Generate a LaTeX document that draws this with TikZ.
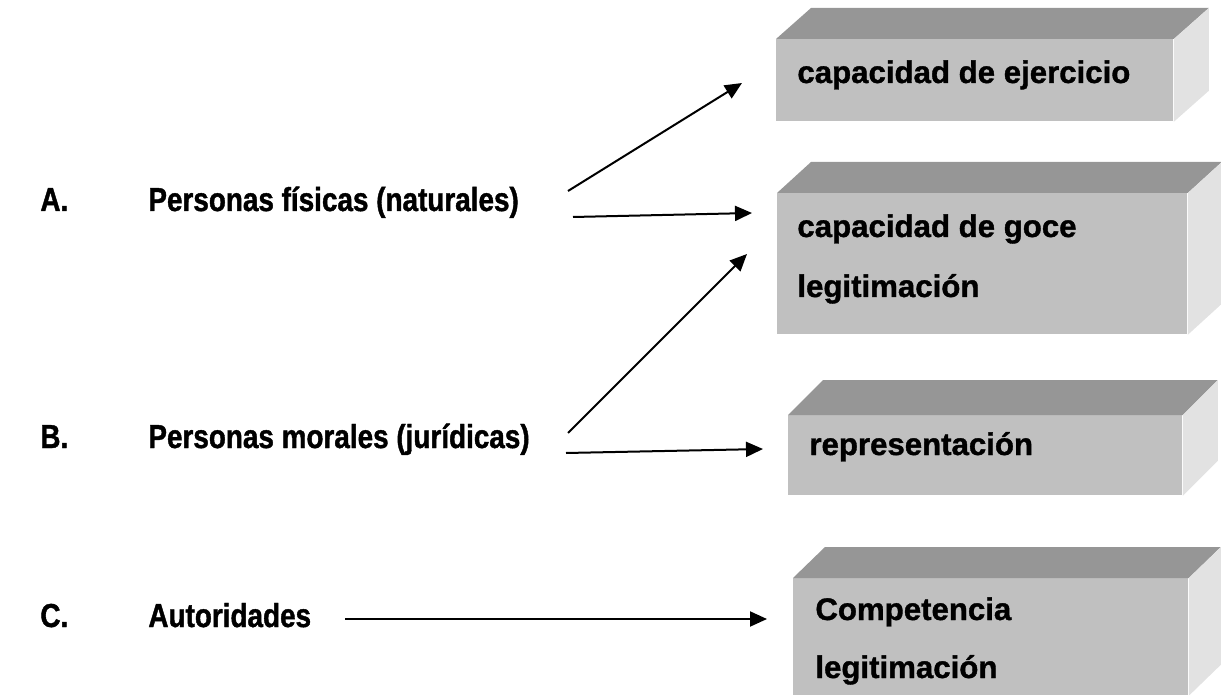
\documentclass[tikz,border=0pt]{standalone}
\usepackage{fontspec}
\setmainfont[BoldFeatures={FakeBold=1.2}]{Liberation Sans}
\newfontfamily\estrecha[FakeStretch=0.84,BoldFeatures={FakeBold=1.2,FakeStretch=0.84}]{Liberation Sans}
\usetikzlibrary{positioning,arrows.meta}

\definecolor{frente}{HTML}{C0C0C0}
\definecolor{techo}{HTML}{969696}
\definecolor{lado}{HTML}{E2E2E2}

\tikzset{
  cara/.style={fill=frente,draw=none,inner sep=0pt,anchor=north west},
  texto/.style={font=\bfseries\fontsize{15.6}{18}\selectfont,inner sep=0pt,anchor=base west},
  rotulo/.style={font=\estrecha\bfseries\fontsize{16.6}{19}\selectfont,inner sep=0pt,anchor=base west},
  flecha/.style={line width=1pt,-{Triangle[length=8.5pt,width=7.5pt]}},
}

\begin{document}
\begin{tikzpicture}[x=0.5pt,y=-0.5pt]

    \useasboundingbox (0,0) rectangle (1221,695);

    % Front faces of the blocks
    \node[cara, minimum width=198.5pt, minimum height=41pt]   (ejercicio) at (776,39)  {};
    \node[cara, minimum width=205pt,   minimum height=70.5pt] (goce)      at (777,193) {};
    \node[cara, minimum width=197pt,   minimum height=40pt]   (repres)    at (788,415) {};
    \node[cara, minimum width=197.5pt, minimum height=58.5pt] (compet)    at (793,578) {};

    % Top and side faces
    \fill[techo] (ejercicio.north west) -- ([shift={(35,-31)}]ejercicio.north west) -- ([shift={(35,-31)}]ejercicio.north east) -- (ejercicio.north east) -- cycle;
    \fill[lado]  (ejercicio.north east) -- ([shift={(35,-31)}]ejercicio.north east) -- ([shift={(35,-31)}]ejercicio.south east) -- (ejercicio.south east) -- cycle;

    \fill[techo] (goce.north west) -- ([shift={(34,-31)}]goce.north west) -- ([shift={(34,-31)}]goce.north east) -- (goce.north east) -- cycle;
    \fill[lado]  (goce.north east) -- ([shift={(34,-31)}]goce.north east) -- ([shift={(34,-31)}]goce.south east) -- (goce.south east) -- cycle;

    \fill[techo] (repres.north west) -- ([shift={(35,-35)}]repres.north west) -- ([shift={(35,-35)}]repres.north east) -- (repres.north east) -- cycle;
    \fill[lado]  (repres.north east) -- ([shift={(35,-35)}]repres.north east) -- ([shift={(35,-35)}]repres.south east) -- (repres.south east) -- cycle;

    \fill[techo] (compet.north west) -- ([shift={(32,-31)}]compet.north west) -- ([shift={(32,-31)}]compet.north east) -- (compet.north east) -- cycle;
    \fill[lado]  (compet.north east) -- ([shift={(32,-31)}]compet.north east) -- ([shift={(32,-31)}]compet.south east) -- (compet.south east) -- cycle;

    % Texts in the blocks
    \node[texto] (tEjercicio) at (797,83)  {capacidad de ejercicio};
    \node[texto] (tGoce)      at (797,237) {capacidad de goce};
    \node[texto] (tLegitA)    at (797,297) {legitimación};
    \node[texto] (tRepres)    at (809,455) {representación};
    \node[texto] (tCompet)    at (815,620) {Competencia};
    \node[texto] (tLegitB)    at (815,678) {legitimación};

    % Left column
    \node[rotulo] (letraA) at (40,211) {A.};
    \node[rotulo] (fisicas) at (148,211) {Personas físicas (naturales)};
    \node[rotulo] (letraB) at (40,448) {B.};
    \node[rotulo] (morales) at (148,448) {Personas morales (jurídicas)};
    \node[rotulo] (letraC) at (40,627) {C.};
    \node[rotulo] (autoridades) at (148,627) {Autoridades};

    % Arrow ends
    \coordinate (a1) at (568,191);  \coordinate (b1) at (742,83);
    \coordinate (a2) at (573,217);  \coordinate (b2) at (752,213);
    \coordinate (a3) at (568,433);  \coordinate (b3) at (747,254);
    \coordinate (a4) at (566,453);  \coordinate (b4) at (763,449);
    \coordinate (a5) at (345,619);  \coordinate (b5) at (767,619);

    \draw[flecha] (a1) -- (b1);
    \draw[flecha] (a2) -- (b2);
    \draw[flecha] (a3) -- (b3);
    \draw[flecha] (a4) -- (b4);
    \draw[flecha] (a5) -- (b5);

\end{tikzpicture}
\end{document}
